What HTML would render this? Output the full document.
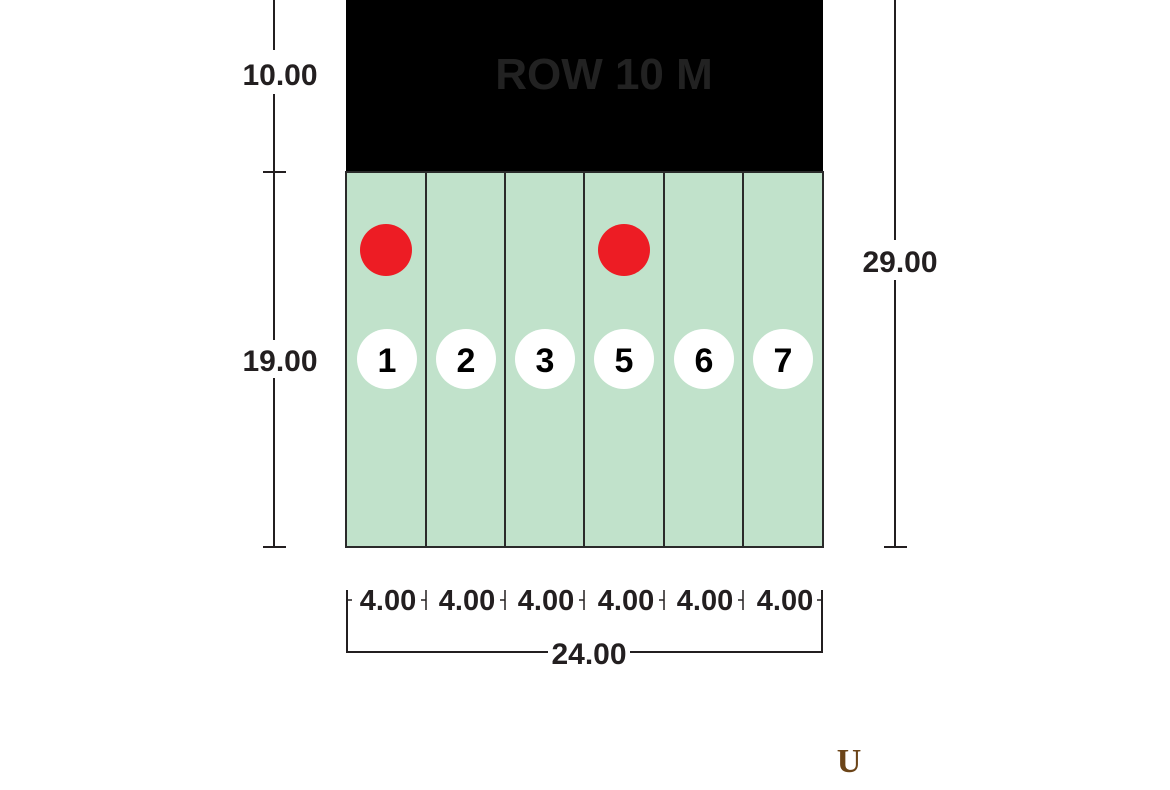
<!DOCTYPE html>
<html><head><style>body{margin:0;background:#fff}</style></head><body>
<svg width="1170" height="785" xmlns="http://www.w3.org/2000/svg" font-family="Liberation Sans, sans-serif" font-weight="bold">
<rect width="1170" height="785" fill="#fff"/>
<rect x="346" y="0" width="477" height="172" fill="#000"/>
<text x="604" y="89" font-size="44" fill="#222" text-anchor="middle">ROW 10 M</text>
<rect x="346" y="172" width="477" height="375" fill="#c1e2cb" stroke="#2a2a2a" stroke-width="2"/>
<g stroke="#2a2a2a" stroke-width="2">
<line x1="426" y1="172" x2="426" y2="547"/><line x1="505" y1="172" x2="505" y2="547"/>
<line x1="584" y1="172" x2="584" y2="547"/><line x1="664" y1="172" x2="664" y2="547"/>
<line x1="743" y1="172" x2="743" y2="547"/>
</g>
<g stroke="#231f20" stroke-width="2" fill="none">
<line x1="274" y1="0" x2="274" y2="50"/><line x1="274" y1="94" x2="274" y2="340"/><line x1="274" y1="378" x2="274" y2="547"/>
<line x1="263" y1="172" x2="286" y2="172"/><line x1="263" y1="547" x2="286" y2="547"/>
<line x1="895" y1="0" x2="895" y2="240"/><line x1="895" y1="280" x2="895" y2="547"/>
<line x1="884" y1="547" x2="907" y2="547"/>
<polyline points="347,590 347,652 548,652"/><polyline points="630,652 822,652 822,590"/>
<g stroke-width="1.5">
<line x1="426" y1="590" x2="426" y2="610"/><line x1="505" y1="590" x2="505" y2="610"/>
<line x1="584" y1="590" x2="584" y2="610"/><line x1="664" y1="590" x2="664" y2="610"/>
<line x1="743" y1="590" x2="743" y2="610"/>
<line x1="421" y1="600" x2="426" y2="600"/><line x1="500" y1="600" x2="505" y2="600"/>
<line x1="579" y1="600" x2="584" y2="600"/><line x1="659" y1="600" x2="664" y2="600"/>
<line x1="738" y1="600" x2="743" y2="600"/><line x1="817" y1="600" x2="822" y2="600"/>
<line x1="347" y1="600" x2="352" y2="600"/>
</g>
</g>
<g font-size="30" fill="#231f20" text-anchor="middle">
<text x="280" y="85">10.00</text>
<text x="280" y="371">19.00</text>
<text x="900" y="272">29.00</text>
<text x="589" y="664">24.00</text>
</g>
<g font-size="29" fill="#231f20" text-anchor="middle">
<text x="388" y="610">4.00</text><text x="467" y="610">4.00</text><text x="546" y="610">4.00</text>
<text x="626" y="610">4.00</text><text x="705" y="610">4.00</text><text x="785" y="610">4.00</text>
</g>
<circle cx="386" cy="250" r="26" fill="#ed1c24"/><circle cx="624" cy="250" r="26" fill="#ed1c24"/>
<g fill="#fff"><circle cx="387" cy="359" r="30"/><circle cx="466" cy="359" r="30"/><circle cx="545" cy="359" r="30"/>
<circle cx="624" cy="359" r="30"/><circle cx="704" cy="359" r="30"/><circle cx="783" cy="359" r="30"/></g>
<g font-size="34" fill="#000" text-anchor="middle">
<text x="387" y="372">1</text><text x="466" y="372">2</text><text x="545" y="372">3</text>
<text x="624" y="372">5</text><text x="704" y="372">6</text><text x="783" y="372">7</text>
</g>
<text x="849" y="772" font-family="Liberation Serif, serif" font-size="34" fill="#6b4418" text-anchor="middle">U</text>
</svg>
</body></html>
